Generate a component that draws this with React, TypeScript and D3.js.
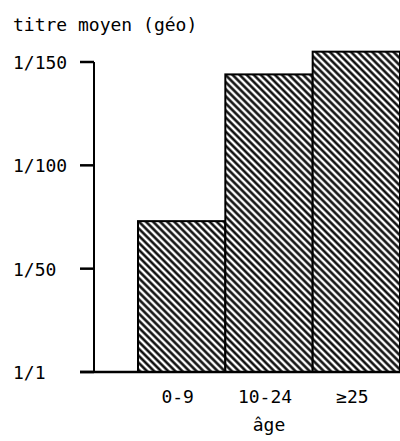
import React from "react";
import * as d3 from "d3";

const categories = ["0-9", "10-24", "≥25"];
const values = [73, 144, 155];
const tickValues = [0, 50, 100, 150];
const tickLabels = ["1/1", "1/50", "1/100", "1/150"];
const yTitle = "titre moyen (géo)";
const xTitle = "âge";

export default function App() {
  const W = 400, H = 441;
  const x = d3.scaleBand<string>().domain(categories).range([138, 400]).padding(0);
  const y = d3.scaleLinear().domain([0, 150]).range([372, 62]);
  const font = "'DejaVu Sans Mono', 'Liberation Mono', monospace";
  const fs = 18;
  return (
    <svg width={W} height={H} style={{ position: "absolute", left: 0, top: 0, background: "#fff" }}>
      <defs>
        <pattern id="hatch" patternUnits="userSpaceOnUse" width={5} height={5} patternTransform="rotate(-45)">
          <rect width={5} height={5} fill="#fff" />
          <line x1={1.5} y1={0} x2={1.5} y2={5} stroke="#000" strokeWidth={2.4} />
        </pattern>
      </defs>
      <text x={13} y={31} fontFamily={font} fontSize={fs} fill="#000">{yTitle}</text>
      {categories.map((c, i) => (
        <rect key={c} x={x(c)} y={y(values[i])} width={x.bandwidth()} height={y(0) - y(values[i])}
          fill="url(#hatch)" stroke="#000" strokeWidth={2} />
      ))}
      <line x1={94} y1={y(150)} x2={94} y2={y(0)} stroke="#000" strokeWidth={2} />
      <line x1={80} y1={y(0)} x2={400} y2={y(0)} stroke="#000" strokeWidth={2.5} />
      {tickValues.map((t, i) => (
        <g key={t}>
          <line x1={80} y1={y(t)} x2={94} y2={y(t)} stroke="#000" strokeWidth={2.5} />
          <text x={13} y={y(t) + 7} fontFamily={font} fontSize={fs} fill="#000">{tickLabels[i]}</text>
        </g>
      ))}
      {categories.map((c) => (
        <text key={c} x={(x(c) as number) + x.bandwidth() / 2 - 4} y={403} textAnchor="middle"
          fontFamily={font} fontSize={fs} fill="#000">{c}</text>
      ))}
      <text x={269} y={431} textAnchor="middle" fontFamily={font} fontSize={fs} fill="#000">{xTitle}</text>
    </svg>
  );
}
